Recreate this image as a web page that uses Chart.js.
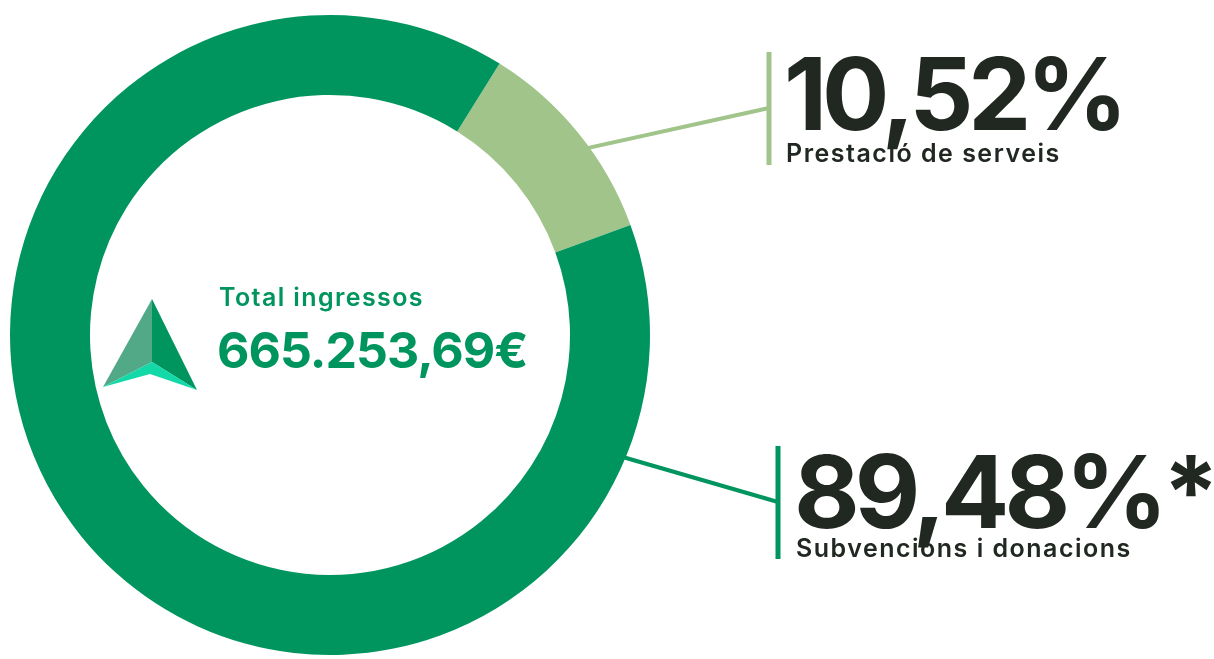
<!DOCTYPE html>
<html>
<head>
<meta charset="utf-8">
<script src="https://cdn.jsdelivr.net/npm/chart.js@4"></script>
<style>
  html, body { margin: 0; padding: 0; background: #fff; }
  #wrap { position: relative; width: 1214px; height: 659px; }
</style>
</head>
<body>
<div id="wrap"><canvas id="incomeChart" width="1214" height="659"></canvas></div>
<script>
// Data
const categories = ['Prestació de serveis', 'Subvencions i donacions'];
const shares = [10.52, 89.48];
const shareLabels = ['10,52%', '89,48%*'];
const totalLabel = 'Total ingressos';
const totalValue = '665.253,69€';

const colors = ['#a0c48a', '#00955e'];
const textDark = '#212821';

// Leader line / label placement (angle from top on outer edge, bar x, label box)
const callouts = [
    { angle: 54, barX: 769, barTop: 52, barBottom: 165, joinY: 108, x: 784, bigY: 130, bigSize: 100, smallY: 162 },
    { angle: 112.6, barX: 778, barTop: 446, barBottom: 559, joinY: 502, x: 794, bigY: 528, bigSize: 101, smallY: 557 }
];

const calloutPlugin = {
    id: 'callouts',
    afterDraw(chart) {
        const ctx = chart.ctx;
        const meta = chart.getDatasetMeta(0);
        const arc = meta.data[0];
        const cx = arc.x, cy = arc.y, r = arc.outerRadius;

        ctx.save();
        callouts.forEach((c, i) => {
            const a = c.angle * Math.PI / 180;
            const sx = cx + Math.sin(a) * (r - 2);
            const sy = cy - Math.cos(a) * (r - 2);
            ctx.strokeStyle = colors[i];
            ctx.lineWidth = 4;
            ctx.beginPath();
            ctx.moveTo(sx, sy);
            ctx.lineTo(c.barX, c.joinY);
            ctx.stroke();
            ctx.lineWidth = 5;
            ctx.beginPath();
            ctx.moveTo(c.barX, c.barTop);
            ctx.lineTo(c.barX, c.barBottom);
            ctx.stroke();

            ctx.fillStyle = textDark;
            ctx.textAlign = 'left';
            ctx.textBaseline = 'alphabetic';
            ctx.letterSpacing = '-5px';
            ctx.font = '700 ' + c.bigSize + 'px Inter';
            ctx.fillText(shareLabels[i], c.x, c.bigY);
            ctx.letterSpacing = '1.5px';
            ctx.font = '600 25px Inter';
            ctx.fillText(categories[i], c.x + 2, c.smallY);
        });

        // center text
        ctx.fillStyle = colors[1];
        ctx.letterSpacing = '1.4px';
        ctx.font = '600 25px Inter';
        ctx.fillText(totalLabel, 219, 306);
        ctx.letterSpacing = '-1px';
        ctx.font = '700 50px Inter';
        ctx.fillText(totalValue, 217, 368);
        ctx.letterSpacing = '0px';

        // logo
        const top = [152, 299], inner = [152, 362], lb = [103, 387], rb = [197, 390], notch = [150, 374];
        const poly = (pts, fill) => {
            ctx.fillStyle = fill;
            ctx.beginPath();
            ctx.moveTo(pts[0][0], pts[0][1]);
            pts.slice(1).forEach(p => ctx.lineTo(p[0], p[1]));
            ctx.closePath();
            ctx.fill();
        };
        poly([top, inner, lb], '#52a987');
        poly([top, rb, inner], '#00955e');
        poly([inner, rb, notch, lb], '#13d9a9');
        ctx.restore();
    }
};

new Chart(document.getElementById('incomeChart').getContext('2d'), {
    type: 'doughnut',
    data: {
        labels: categories,
        datasets: [{
            data: shares,
            backgroundColor: colors,
            borderWidth: 0
        }]
    },
    options: {
        responsive: false,
        animation: false,
        rotation: 32,
        cutout: '75%',
        layout: {
            padding: { left: 10, right: 564, top: 15, bottom: 4 }
        },
        plugins: {
            legend: { display: false },
            tooltip: { enabled: false }
        }
    },
    plugins: [calloutPlugin]
});
</script>
</body>
</html>
